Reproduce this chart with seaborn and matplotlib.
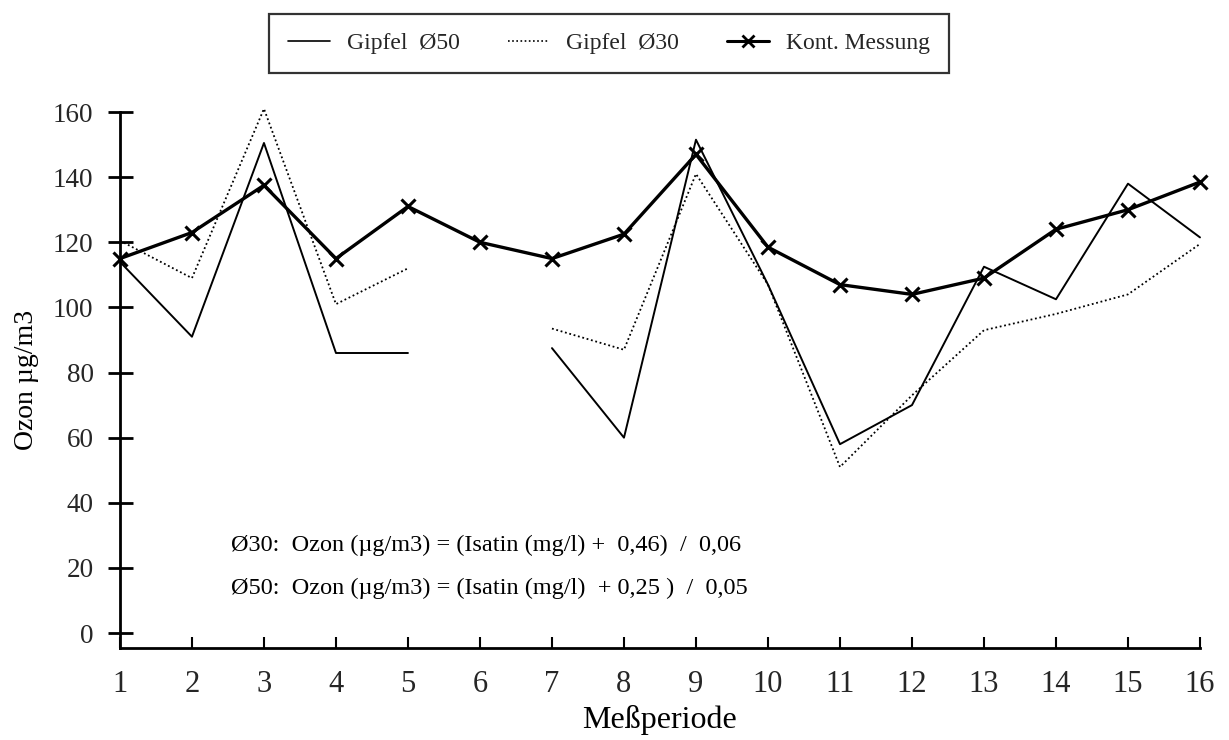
import numpy as np
import pandas as pd
import matplotlib
matplotlib.use("Agg")
import matplotlib.pyplot as plt
from matplotlib.lines import Line2D
import seaborn as sns

# Messperioden und Ozonwerte (µg/m3)
perioden = list(range(1, 17))
gipfel_50 = [114, 91, 150.5, 86, 86, np.nan, 87.5, 60, 151.5, 107, 58, 70, 112.5, 102.5, 138, 121.5]
gipfel_30 = [120.5, 109, 161, 101, 112, np.nan, 93.5, 87, 141, 107, 51, 73, 93, 98, 104, 119.5]
kont_messung = [115, 123, 137.5, 115, 131, 120, 115, 122.5, 147, 118.5, 107, 104, 109, 124, 130, 138.5]
y_ticks = [0, 20, 40, 60, 80, 100, 120, 140, 160]

sns.set_theme(style="white")
plt.rcParams["font.family"] = ["Liberation Serif", "DejaVu Serif"]


def segmente(x, y):
    """Split a series at missing values so gaps stay open."""
    seg, rows = 0, []
    for xi, yi in zip(x, y):
        if np.isnan(yi):
            seg += 1
            continue
        rows.append({"x": xi, "y": yi, "seg": seg})
    return pd.DataFrame(rows)


fig = plt.figure(figsize=(12.29, 7.40), dpi=100)
ax = fig.add_axes([0.0976, 0.1243, 0.8788, 0.7243])

df50 = segmente(perioden, gipfel_50)
df30 = segmente(perioden, gipfel_30)
dfk = pd.DataFrame({"x": perioden, "y": kont_messung})

sns.lineplot(data=df50, x="x", y="y", units="seg", estimator=None, ax=ax,
             color="black", linewidth=1.4, sort=False, clip_on=False)
sns.lineplot(data=df30, x="x", y="y", units="seg", estimator=None, ax=ax,
             color="black", linewidth=1.3, linestyle=(0, (1, 1.5)), sort=False,
             clip_on=False)
sns.lineplot(data=dfk, x="x", y="y", ax=ax, color="black", linewidth=2.4,
             marker="x", markersize=10, markeredgewidth=2.2,
             markeredgecolor="black", clip_on=False)

ax.set_xlim(1, 16)
ax.set_ylim(-4.6, 160)
ax.set_xticks(perioden)
ax.set_yticks(y_ticks)
for s in ["top", "right"]:
    ax.spines[s].set_visible(False)
for s in ["left", "bottom"]:
    ax.spines[s].set_color("black")
    ax.spines[s].set_linewidth(2.0)

ax.tick_params(axis="x", direction="in", length=8, width=1.5, color="black",
               labelsize=22, pad=16, bottom=True)
ax.tick_params(axis="y", direction="inout", length=18, width=2, color="black",
               labelsize=19.5, pad=10, left=True)

ax.set_xlabel("Meßperiode", fontsize=23, labelpad=4, color="black")
ax.set_ylabel("Ozon µg/m3", fontsize=20, labelpad=10, color="black")

ax.text(2.54, 27, "Ø30:  Ozon (µg/m3) = (Isatin (mg/l) +  0,46)  /  0,06",
        fontsize=17.5, color="black", va="center")
ax.text(2.54, 13.8, "Ø50:  Ozon (µg/m3) = (Isatin (mg/l)  + 0,25 )  /  0,05",
        fontsize=17.5, color="black", va="center")

handles = [
    Line2D([], [], color="black", linewidth=1.2),
    Line2D([], [], color="black", linewidth=1.2, linestyle=(0, (1, 1.5))),
    Line2D([], [], color="black", linewidth=2.2, marker="x", markersize=8,
           markeredgewidth=2),
]
labels = ["Gipfel  Ø50", "Gipfel  Ø30", "Kont. Messung"]
leg = fig.legend(handles, labels, loc="center", bbox_to_anchor=(0.4955, 0.9412),
                 ncol=3, frameon=True, fancybox=False, fontsize=17,
                 handlelength=1.75, handletextpad=0.72, columnspacing=2.05,
                 borderpad=0.8, borderaxespad=0)
leg.get_frame().set_edgecolor("black")
leg.get_frame().set_linewidth(1.6)

fig.savefig("out.png", dpi=100)
